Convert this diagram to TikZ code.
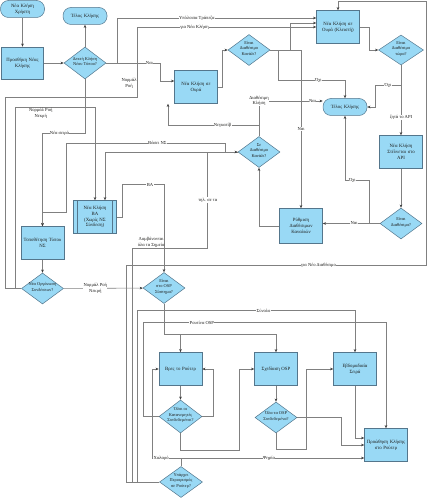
\documentclass[tikz,border=0pt]{standalone}
\usepackage{fontspec}
\setmainfont{Liberation Serif}
\usetikzlibrary{positioning,arrows.meta,calc,shapes.geometric}
\definecolor{colorfill}   {RGB}{153,217,245}
\definecolor{colorborder} {RGB}{ 84,118,140}
\definecolor{colorline}   {RGB}{128,128,128}
\definecolor{colortip}    {RGB}{ 60, 60, 60}
\definecolor{colortext}   {RGB}{ 29, 29, 27}
\newcommand{\dtxt}[1]{\smash{\makebox[0pt]{\begin{tabular}{@{}c@{}}#1\end{tabular}}}}

\begin{document}
\begin{tikzpicture}[
    x=1pt, y=-1pt,
    >={Stealth[length=3.2pt,width=2.6pt,color=colortip]},
    font={\fontsize{4.8}{5.8}\selectfont},
    base/.style={draw=colorborder,fill=colorfill,text=colortext,line width=0.5pt,inner sep=1pt,align=center},
    box/.style={base,rectangle,minimum width=43pt,minimum height=33pt,text width=40pt},
    term/.style={base,rectangle,rounded corners=8pt,minimum width=44pt,minimum height=17pt,text width=40pt},
    decision/.style={draw=colorborder,fill=colorfill,text=colortext,line width=0.5pt,diamond,inner sep=0pt,
                     minimum width=42pt,minimum height=31pt,font={\fontsize{4.4}{5.4}\selectfont}},
    subproc/.style={box,text width=30pt,path picture={
        \draw[colorborder,line width=0.5pt]
            ([xshift=4pt]path picture bounding box.north west) -- ([xshift=4pt]path picture bounding box.south west)
            ([xshift=-4pt]path picture bounding box.north east) -- ([xshift=-4pt]path picture bounding box.south east);}},
    link/.style={draw=colorline,line width=0.6pt},
    lbl/.style={fill=white,inner sep=0.4pt,text=colortext,align=center,font={\fontsize{4.6}{5.4}\selectfont}},
]
    \useasboundingbox (0,0) rectangle (432,500);

    % upper part
    \node[box,minimum width=41pt,minimum height=32pt] (addcall) at (22.5,63) {Προσθήκη Νέας\\Κλήσης};
    \node[term,above=29pt of addcall] (start) {Νέα Κλήση\\Χρήστη};
    \node[decision,minimum height=32pt] (isnew) at (85,63) {\dtxt{Δεκτή Κλήση\\Νέου Τύπου?}};
    \node[term,above=22pt of isnew] (endA) {Τέλος Κλήσης};
    \node[box] (queue) at (196,87) {Νέα Κλήση σε\\Ουρά};
    \node[decision] (chanfree) at (249,50) {\dtxt{Είναι\\Διαθέσιμο\\Κανάλι?}};
    \node[box] (queueclosed) at (338,27) {Νέα Κλήση σε\\Ουρά (Κλειστή)};
    \node[decision,minimum width=45pt,minimum height=30pt] (freenow) at (401,50) {\dtxt{Είναι\\Διαθέσιμο\\τώρα?}};
    \node[term] (endB) at (345,107) {Τέλος Κλήσης};
    \node[box,below=70pt of freenow] (apicall) {Νέα Κλήση\\Στέλνεται στο\\API};
    \node[decision,below=39pt of apicall] (isfree) {\dtxt{Είναι\\Διαθέσιμο?}};
    \node[box,minimum height=35pt] (setchan) at (301,226) {Ρύθμιση\\Διαθέσιμων\\Καναλιών};
    \node[decision] (onchan) at (259,152) {\dtxt{Σε\\Διαθέσιμο\\Κανάλι?}};

    % middle part
    \node[subproc] (bacall) at (95,217) {Νέα Κλήση\\ΒΑ\\(Χωρίς ΝΣ\\Σύνδεση)};
    \node[box] (nstype) at (42.5,243) {Τοποθέτηση Τύπου\\ΝΣ};
    \node[decision,below=13pt of nstype] (newgroup) {\dtxt{Νέα Οργάνωση\\Συνδέσεων?}};
    \node[decision] (inosp) at (164,288) {\dtxt{Είναι\\στο OSP\\Σύστημα?}};

    % lower part
    \node[box] (findrouter) at (180.5,369) {Βρες το Ρούτερ};
    \node[box] (ospplan) at (276,369) {Σχεδίαση OSP};
    \node[box] (weekly) at (355,369) {Εβδομαδιαία\\Σειρά};
    \node[decision,minimum width=43pt,minimum height=33pt,below=14pt of findrouter] (allconn) {\dtxt{Όλοι οι\\Κατανεμητές\\Συνδεδεμένοι?}};
    \node[decision,below=16pt of ospplan] (allosp) {\dtxt{Όλα τα OSP\\Συνδεδεμένα?}};
    \node[decision,minimum width=43pt] (routerlim) at (181,482) {\dtxt{Υπάρχει\\Περιορισμός\\σε Ρούτερ?}};
    \node[box,minimum width=42pt,text width=41pt] (forward) at (386,445) {Προώθηση Κλήσης\\στο Ρούτερ};

    % connectors, upper part
    \draw[link,->] (start) -- (addcall);
    \draw[link,->] (addcall) -- (isnew);
    \draw[link,->] (isnew) -- (endA);
    \draw[link,->] (isnew.east) -- ++(54,0) node[lbl,pos=0.8]{Ναι} |- ($(queue.west)+(0,-6)$);
    \draw[link,->] (isnew.east) -- ++(11,0) |- ($(queueclosed.west)+(0,-9)$) node[lbl,pos=0.7]{Υπόλοιπα Τράπεζα};
    \draw[link,->] (newgroup.west) -| ++(-16,-191) -- ++(132,0) |- (queueclosed.west)
        node[lbl,pos=0.66]{για Νέα Κλήση} node[lbl,left,pos=0.1]{Νορμάλ\\Ροή};
    \draw[link,->] (queue.east) -- ++(5,0) |- (chanfree.west);
    \draw[link,->] (chanfree.east) -- ++(20,0) |- ($(queueclosed.west)+(0,-4)$);
    \draw[link,->] (chanfree.east) -| (setchan.north) node[lbl,pos=0.75]{Ναι};
    \draw[link,->] (chanfree.east) -- ++(8,0) -- ++(0,30) -| (endB.north) node[lbl,pos=0.3]{Όχι};
    \draw[link,->] (queueclosed.east) -- ++(10,0) |- (freenow.west);
    \draw[link,->] (freenow) -- (apicall) node[lbl,pos=0.74]{ζητά το API};
    \draw[link,->] (freenow.south) -- ++(0,20) -- ++(-26,0) node[lbl,midway]{Όχι} |- (endB.east);
    \draw[link,->] (apicall) -- (isfree);
    \draw[link,->] (isfree.west) -- (isfree.west -| setchan.east) node[lbl,pos=0.45]{Ναι};
    \draw[link,->] (isfree.west) -- ++(-10,0) |- ($(endB.south)+(0,65)$) node[lbl,pos=0.85]{Όχι} -- (endB.south);
    \draw[link,->] (setchan.west) -| (onchan.south);
    \draw[link,->] (onchan.north) |- ($(endB.west)+(0,-6)$) node[lbl,pos=0.5]{Διαθέσιμη\\Κλήση} node[lbl,pos=0.92]{Ναι};
    \draw[link,->] (onchan.north) -- ++(0,-11) -| ($(queue.south)+(-28,0)$) node[lbl,pos=0.2]{Νεγκατίβ};
    \draw[link,->] (onchan.west) -- ++(-12,0) -- ++(0,-9) -- ++(-159,0) node[lbl,pos=0.43]{Βάσει ΝΣ}
        -- ++(0,69) -| (nstype.north);
    \draw[link,->] (onchan.west) -| ($(bacall.north)+(10,0)$);

    % connectors, middle part
    \draw[link,->] (isnew.south) -- ++(0,54) -| (nstype.north) node[lbl,pos=0.3]{Νέα σειρά};
    \draw[link,->] (newgroup.west) -- ++(-6,0) |- ($(bacall.north)+(0,-92.5)$)
        node[lbl,below,pos=0.66]{Νορμάλ Ροή\\Νεκρή} -- (bacall.north);
    \draw[link,->] (nstype) -- (newgroup);
    \draw[link,->] (newgroup) -- (inosp) node[lbl,pos=0.4]{Νορμάλ Ροή\\Νεκρή};
    \draw[link,->] (bacall.east) -- ++(6,0) |- ($(inosp.north)+(0,-87.5)$) node[lbl,pos=0.83]{ΒΑ} -- (inosp.north);

    % connectors, lower part
    \draw[link,->] (inosp.south) -- ++(0,31) -| (findrouter.north);
    \draw[link,->] (inosp.south) -- ++(0,31) -| (ospplan.north);
    \draw[link,->] (findrouter) -- (allconn);
    \draw[link,->] (ospplan) -- (allosp);
    \draw[link,->] (allconn.east) -- ++(11,0) |- (findrouter.east);
    \draw[link,->] (allconn.south) -- ++(0,17.5) -| ($(ospplan.west)+(-14.5,0)$) -- (ospplan.west);
    \draw[link,->] (allosp.east) -- ++(44,0) |- (forward.west);
    \draw[link,->] (allosp.south) -- ++(0,16.5) -| ($(weekly.west)+(-26.5,0)$) -- (weekly.west);
    \draw[link,->] (weekly.south) |- ($(forward.west)+(0,-7)$);
    \draw[link,->] (routerlim.north) |- ($(forward.west)+(0,13)$) node[lbl,pos=0.74]{Ψηφία};
    \draw[link,->] (routerlim.north) |- ($(findrouter.west)+(-6,89)$) node[lbl,pos=0.85]{Χαλαρό} |- (findrouter.west);
    \draw[link,->] (routerlim.west) -- ++(-22,0) |- ($(weekly.north)+(0,-41.5)$) node[lbl,pos=0.79]{Σύνολο} -- (weekly.north);
    \draw[link,->] (allconn.west) -- ++(-15,0) |- ($(forward.north)+(0,-105.5)$) node[lbl,pos=0.62]{Ρουτίνα OSP} -- (forward.north);
    \draw[link,->] (routerlim.west) -- ++(-33,0) -- ++(0,-217) -- ++(300.5,0) node[lbl,pos=0.64]{για Νέο Διαθέσιμο}
        |- ($(queueclosed.north)+(0,-8.5)$) -- (queueclosed.north);
    \draw[link,->] (routerlim.west) -- ++(-27,0) -- ++(0,-234) -- ++(75.5,0)
        node[lbl,fill=none,above,pos=0.25]{Λαμβάνονται\\όλα τα Σημεία} |- (onchan.west) node[lbl,pos=0.25]{τηλ. σε τα};

\end{tikzpicture}
\end{document}
